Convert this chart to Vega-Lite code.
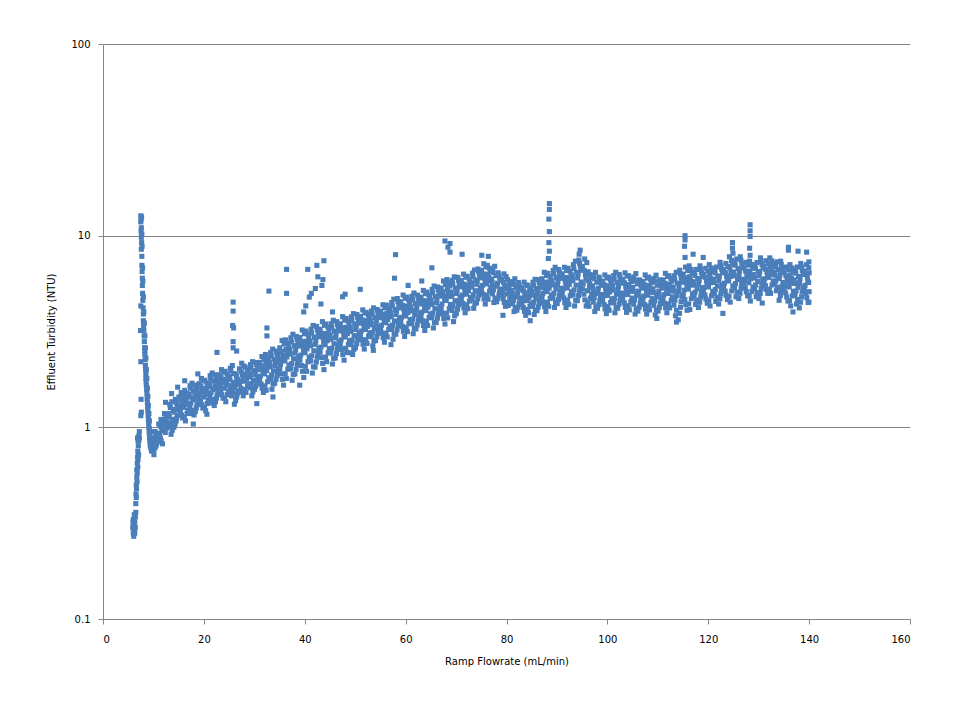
{
  "$schema": "https://vega.github.io/schema/vega-lite/v6.json",
  "width": 807,
  "height": 575,
  "autosize": "none",
  "padding": {"left": 103, "top": 44, "right": 50, "bottom": 101},
  "background": "white",
  "data": {"values": [
    {"x":5.9,"y":0.30},{"x":5.95,"y":0.32},{"x":6.0,"y":0.28},{"x":6.0,"y":0.33},{"x":6.1,"y":0.27},{"x":6.1,"y":0.31},{"x":6.15,"y":0.29},{"x":6.2,"y":0.29},{"x":6.2,"y":0.35},{"x":6.3,"y":0.32},{"x":6.3,"y":0.28},{"x":6.4,"y":0.30},{"x":6.4,"y":0.34},{"x":6.5,"y":0.36},
    {"x":6.5,"y":0.40},{"x":6.55,"y":0.45},{"x":6.6,"y":0.43},{"x":6.6,"y":0.50},{"x":6.65,"y":0.48},{"x":6.7,"y":0.55},{"x":6.7,"y":0.60},{"x":6.75,"y":0.52},{"x":6.8,"y":0.58},{"x":6.8,"y":0.65},{"x":6.85,"y":0.70},{"x":6.85,"y":0.88},{"x":6.9,"y":0.62},{"x":6.9,"y":0.75},{"x":6.95,"y":0.68},{"x":6.95,"y":0.85},{"x":7.0,"y":0.80},{"x":7.0,"y":0.88},{"x":7.05,"y":0.72},{"x":7.1,"y":0.85},{"x":7.1,"y":0.90},{"x":7.2,"y":0.88},{"x":7.2,"y":0.95},
    {"x":7.5,"y":1.15},{"x":7.55,"y":1.4},{"x":7.6,"y":1.2},{"x":7.5,"y":2.2},{"x":7.45,"y":3.2},{"x":7.5,"y":4.3},
    {"x":7.5,"y":12.7},{"x":7.55,"y":12.2},{"x":7.5,"y":11.8},{"x":7.6,"y":11.0},{"x":7.55,"y":10.5},{"x":7.6,"y":9.8},{"x":7.65,"y":9.2},{"x":7.6,"y":8.5},{"x":7.7,"y":7.8},{"x":7.7,"y":7.0},{"x":7.75,"y":6.5},{"x":7.8,"y":6.0},{"x":7.8,"y":5.5},{"x":7.85,"y":5.0},{"x":7.9,"y":4.6},{"x":7.95,"y":4.2},{"x":8.0,"y":3.9},{"x":8.0,"y":3.6},{"x":8.05,"y":3.4},{"x":8.1,"y":3.2},{"x":8.15,"y":3.0},{"x":8.2,"y":2.8},{"x":8.25,"y":2.6},{"x":8.3,"y":2.5},{"x":8.3,"y":2.4},{"x":8.35,"y":2.25},{"x":8.4,"y":2.1},{"x":8.45,"y":2.0},{"x":8.5,"y":1.9},{"x":8.5,"y":1.8},{"x":8.55,"y":1.72},{"x":8.6,"y":1.65},{"x":8.65,"y":1.58},{"x":8.7,"y":1.5},{"x":8.75,"y":1.42},{"x":8.8,"y":1.35},{"x":8.85,"y":1.28},{"x":8.9,"y":1.22},{"x":8.95,"y":1.16},{"x":9.0,"y":1.10},{"x":9.05,"y":1.05},{"x":9.1,"y":1.0},{"x":9.15,"y":0.95},{"x":9.2,"y":0.92},{"x":9.2,"y":0.98},{"x":9.25,"y":0.88},{"x":9.3,"y":0.85},{"x":9.3,"y":0.9},{"x":9.35,"y":0.82},{"x":9.4,"y":0.80},{"x":9.45,"y":0.85},{"x":9.5,"y":0.78},{"x":9.55,"y":0.82},{"x":9.6,"y":0.76},{"x":9.65,"y":0.80},{"x":9.7,"y":0.75},{"x":9.75,"y":0.86},{"x":9.8,"y":0.76},{"x":9.9,"y":0.80},{"x":9.9,"y":0.88},{"x":10.1,"y":0.72},
    {"x":7.65,"y":12.5},{"x":7.7,"y":10.2},{"x":7.75,"y":8.8},{"x":7.85,"y":6.8},{"x":7.9,"y":5.8},{"x":8.0,"y":4.8},{"x":8.1,"y":4.0},{"x":8.2,"y":3.5},{"x":8.3,"y":3.0},{"x":8.4,"y":2.6},{"x":8.5,"y":2.3},{"x":8.6,"y":2.0},{"x":8.7,"y":1.8},{"x":8.8,"y":1.6},{"x":8.9,"y":1.45},{"x":9.0,"y":1.3},{"x":9.1,"y":1.18},{"x":9.2,"y":1.08},{"x":9.4,"y":0.95},{"x":9.6,"y":0.88},{"x":9.8,"y":0.84},
    {"x":10.05,"y":0.76},{"x":10.5,"y":0.80},{"x":10.8,"y":0.84},{"x":10.2,"y":0.87},{"x":10.65,"y":0.91},{"x":10.35,"y":0.95},
    {"x":11.8,"y":0.82},{"x":11.35,"y":0.88},{"x":11.2,"y":0.93},{"x":11.65,"y":0.99},{"x":11.05,"y":1.04},{"x":11.5,"y":1.10},
    {"x":12.35,"y":0.94},{"x":12.65,"y":0.99},{"x":12.05,"y":1.04},{"x":12.5,"y":1.08},{"x":12.8,"y":1.13},{"x":12.2,"y":1.18},
    {"x":13.5,"y":0.92},{"x":13.2,"y":1.01},{"x":13.8,"y":1.10},{"x":13.05,"y":1.18},{"x":13.35,"y":1.27},{"x":13.65,"y":1.36},
    {"x":14.05,"y":1.00},{"x":14.5,"y":1.08},{"x":14.8,"y":1.16},{"x":14.2,"y":1.24},{"x":14.65,"y":1.32},{"x":14.35,"y":1.40},
    {"x":15.8,"y":1.12},{"x":15.35,"y":1.20},{"x":15.2,"y":1.28},{"x":15.65,"y":1.36},{"x":15.05,"y":1.44},{"x":15.5,"y":1.52},
    {"x":16.35,"y":1.08},{"x":16.65,"y":1.18},{"x":16.05,"y":1.27},{"x":16.5,"y":1.37},{"x":16.8,"y":1.46},{"x":16.2,"y":1.56},
    {"x":17.5,"y":1.18},{"x":17.2,"y":1.28},{"x":17.8,"y":1.39},{"x":17.05,"y":1.49},{"x":17.35,"y":1.60},{"x":17.65,"y":1.70},
    {"x":18.05,"y":1.16},{"x":18.5,"y":1.26},{"x":18.8,"y":1.36},{"x":18.2,"y":1.46},{"x":18.65,"y":1.56},{"x":18.35,"y":1.66},
    {"x":19.8,"y":1.26},{"x":19.35,"y":1.37},{"x":19.2,"y":1.48},{"x":19.65,"y":1.58},{"x":19.05,"y":1.69},{"x":19.5,"y":1.80},
    {"x":20.35,"y":1.22},{"x":20.65,"y":1.33},{"x":20.05,"y":1.44},{"x":20.5,"y":1.54},{"x":20.8,"y":1.65},{"x":20.2,"y":1.76},
    {"x":21.5,"y":1.34},{"x":21.2,"y":1.46},{"x":21.8,"y":1.57},{"x":21.05,"y":1.69},{"x":21.35,"y":1.80},{"x":21.65,"y":1.92},
    {"x":22.05,"y":1.30},{"x":22.5,"y":1.42},{"x":22.8,"y":1.53},{"x":22.2,"y":1.65},{"x":22.65,"y":1.76},{"x":22.35,"y":1.88},
    {"x":23.8,"y":1.42},{"x":23.35,"y":1.54},{"x":23.2,"y":1.65},{"x":23.65,"y":1.77},{"x":23.05,"y":1.88},{"x":23.5,"y":2.00},
    {"x":24.35,"y":1.36},{"x":24.65,"y":1.48},{"x":24.05,"y":1.60},{"x":24.5,"y":1.72},{"x":24.8,"y":1.84},{"x":24.2,"y":1.96},
    {"x":25.5,"y":1.46},{"x":25.2,"y":1.59},{"x":25.8,"y":1.72},{"x":25.05,"y":1.84},{"x":25.35,"y":1.97},{"x":25.65,"y":2.10},
    {"x":26.05,"y":1.32},{"x":26.5,"y":1.44},{"x":26.8,"y":1.55},{"x":26.2,"y":1.67},{"x":26.65,"y":1.78},{"x":26.35,"y":1.90},
    {"x":27.8,"y":1.46},{"x":27.35,"y":1.60},{"x":27.2,"y":1.74},{"x":27.65,"y":1.88},{"x":27.05,"y":2.02},{"x":27.5,"y":2.16},
    {"x":28.35,"y":1.52},{"x":28.65,"y":1.63},{"x":28.05,"y":1.74},{"x":28.5,"y":1.84},{"x":28.8,"y":1.95},{"x":28.2,"y":2.06},
    {"x":29.5,"y":1.46},{"x":29.2,"y":1.61},{"x":29.8,"y":1.76},{"x":29.05,"y":1.90},{"x":29.35,"y":2.05},{"x":29.65,"y":2.20},
    {"x":30.05,"y":1.58},{"x":30.5,"y":1.70},{"x":30.8,"y":1.82},{"x":30.2,"y":1.94},{"x":30.65,"y":2.06},{"x":30.35,"y":2.18},
    {"x":31.8,"y":1.52},{"x":31.35,"y":1.68},{"x":31.2,"y":1.85},{"x":31.65,"y":2.01},{"x":31.05,"y":2.18},{"x":31.5,"y":2.34},
    {"x":32.35,"y":1.56},{"x":32.65,"y":1.73},{"x":32.05,"y":1.90},{"x":32.5,"y":2.06},{"x":32.8,"y":2.23},{"x":32.2,"y":2.40},
    {"x":33.5,"y":1.58},{"x":33.2,"y":1.78},{"x":33.8,"y":1.97},{"x":33.05,"y":2.17},{"x":33.35,"y":2.36},{"x":33.65,"y":2.56},
    {"x":34.05,"y":1.70},{"x":34.5,"y":1.86},{"x":34.8,"y":2.02},{"x":34.2,"y":2.18},{"x":34.65,"y":2.34},{"x":34.35,"y":2.50},
    {"x":35.8,"y":1.66},{"x":35.35,"y":1.90},{"x":35.2,"y":2.13},{"x":35.65,"y":2.37},{"x":35.05,"y":2.60},{"x":35.5,"y":2.84},
    {"x":36.35,"y":1.80},{"x":36.65,"y":2.01},{"x":36.05,"y":2.22},{"x":36.5,"y":2.44},{"x":36.8,"y":2.65},{"x":36.2,"y":2.86},
    {"x":37.5,"y":1.76},{"x":37.2,"y":2.02},{"x":37.8,"y":2.28},{"x":37.05,"y":2.54},{"x":37.35,"y":2.80},{"x":37.65,"y":3.06},
    {"x":38.05,"y":1.90},{"x":38.5,"y":2.12},{"x":38.8,"y":2.33},{"x":38.2,"y":2.55},{"x":38.65,"y":2.76},{"x":38.35,"y":2.98},
    {"x":39.8,"y":1.82},{"x":39.35,"y":2.10},{"x":39.2,"y":2.38},{"x":39.65,"y":2.66},{"x":39.05,"y":2.94},{"x":39.5,"y":3.22},
    {"x":40.35,"y":1.96},{"x":40.65,"y":2.20},{"x":40.05,"y":2.45},{"x":40.5,"y":2.69},{"x":40.8,"y":2.94},{"x":40.2,"y":3.18},
    {"x":41.5,"y":1.92},{"x":41.2,"y":2.22},{"x":41.8,"y":2.51},{"x":41.05,"y":2.81},{"x":41.35,"y":3.10},{"x":41.65,"y":3.40},
    {"x":42.05,"y":2.06},{"x":42.5,"y":2.32},{"x":42.8,"y":2.58},{"x":42.2,"y":2.84},{"x":42.65,"y":3.10},{"x":42.35,"y":3.36},
    {"x":43.8,"y":2.00},{"x":43.35,"y":2.31},{"x":43.2,"y":2.62},{"x":43.65,"y":2.94},{"x":43.05,"y":3.25},{"x":43.5,"y":3.56},
    {"x":44.35,"y":2.20},{"x":44.65,"y":2.45},{"x":44.05,"y":2.70},{"x":44.5,"y":2.96},{"x":44.8,"y":3.21},{"x":44.2,"y":3.46},
    {"x":45.5,"y":2.14},{"x":45.2,"y":2.44},{"x":45.8,"y":2.73},{"x":45.05,"y":3.03},{"x":45.35,"y":3.32},{"x":45.65,"y":3.62},
    {"x":46.05,"y":2.30},{"x":46.5,"y":2.55},{"x":46.8,"y":2.80},{"x":46.2,"y":3.06},{"x":46.65,"y":3.31},{"x":46.35,"y":3.56},
    {"x":47.8,"y":2.24},{"x":47.35,"y":2.55},{"x":47.2,"y":2.86},{"x":47.65,"y":3.16},{"x":47.05,"y":3.47},{"x":47.5,"y":3.78},
    {"x":48.35,"y":2.46},{"x":48.65,"y":2.71},{"x":48.05,"y":2.96},{"x":48.5,"y":3.20},{"x":48.8,"y":3.45},{"x":48.2,"y":3.70},
    {"x":49.5,"y":2.40},{"x":49.2,"y":2.70},{"x":49.8,"y":3.01},{"x":49.05,"y":3.31},{"x":49.35,"y":3.62},{"x":49.65,"y":3.92},
    {"x":50.05,"y":2.60},{"x":50.5,"y":2.86},{"x":50.8,"y":3.11},{"x":50.2,"y":3.37},{"x":50.65,"y":3.62},{"x":50.35,"y":3.88},
    {"x":51.8,"y":2.56},{"x":51.35,"y":2.87},{"x":51.2,"y":3.18},{"x":51.65,"y":3.48},{"x":51.05,"y":3.79},{"x":51.5,"y":4.10},
    {"x":52.35,"y":2.74},{"x":52.65,"y":2.99},{"x":52.05,"y":3.24},{"x":52.5,"y":3.48},{"x":52.8,"y":3.73},{"x":52.2,"y":3.98},
    {"x":53.5,"y":2.66},{"x":53.2,"y":2.97},{"x":53.8,"y":3.28},{"x":53.05,"y":3.58},{"x":53.35,"y":3.89},{"x":53.65,"y":4.20},
    {"x":54.05,"y":2.84},{"x":54.5,"y":3.10},{"x":54.8,"y":3.35},{"x":54.2,"y":3.61},{"x":54.65,"y":3.86},{"x":54.35,"y":4.12},
    {"x":55.8,"y":2.78},{"x":55.35,"y":3.10},{"x":55.2,"y":3.41},{"x":55.65,"y":3.73},{"x":55.05,"y":4.04},{"x":55.5,"y":4.36},
    {"x":56.35,"y":2.96},{"x":56.65,"y":3.24},{"x":56.05,"y":3.51},{"x":56.5,"y":3.79},{"x":56.8,"y":4.06},{"x":56.2,"y":4.34},
    {"x":57.5,"y":2.88},{"x":57.2,"y":3.24},{"x":57.8,"y":3.59},{"x":57.05,"y":3.95},{"x":57.35,"y":4.30},{"x":57.65,"y":4.66},
    {"x":58.05,"y":3.06},{"x":58.5,"y":3.39},{"x":58.8,"y":3.72},{"x":58.2,"y":4.04},{"x":58.65,"y":4.37},{"x":58.35,"y":4.70},
    {"x":59.8,"y":2.98},{"x":59.35,"y":3.36},{"x":59.2,"y":3.75},{"x":59.65,"y":4.13},{"x":59.05,"y":4.52},{"x":59.5,"y":4.90},
    {"x":60.35,"y":3.16},{"x":60.65,"y":3.48},{"x":60.05,"y":3.81},{"x":60.5,"y":4.13},{"x":60.8,"y":4.46},{"x":60.2,"y":4.78},
    {"x":61.5,"y":3.08},{"x":61.2,"y":3.47},{"x":61.8,"y":3.86},{"x":61.05,"y":4.24},{"x":61.35,"y":4.63},{"x":61.65,"y":5.02},
    {"x":62.05,"y":3.26},{"x":62.5,"y":3.59},{"x":62.8,"y":3.92},{"x":62.2,"y":4.24},{"x":62.65,"y":4.57},{"x":62.35,"y":4.90},
    {"x":63.8,"y":3.20},{"x":63.35,"y":3.60},{"x":63.2,"y":3.99},{"x":63.65,"y":4.39},{"x":63.05,"y":4.78},{"x":63.5,"y":5.18},
    {"x":64.35,"y":3.40},{"x":64.65,"y":3.74},{"x":64.05,"y":4.07},{"x":64.5,"y":4.41},{"x":64.8,"y":4.74},{"x":64.2,"y":5.08},
    {"x":65.5,"y":3.30},{"x":65.2,"y":3.73},{"x":65.8,"y":4.16},{"x":65.05,"y":4.60},{"x":65.35,"y":5.03},{"x":65.65,"y":5.46},
    {"x":66.05,"y":3.52},{"x":66.5,"y":3.90},{"x":66.8,"y":4.27},{"x":66.2,"y":4.65},{"x":66.65,"y":5.02},{"x":66.35,"y":5.40},
    {"x":67.8,"y":3.46},{"x":67.35,"y":3.93},{"x":67.2,"y":4.40},{"x":67.65,"y":4.86},{"x":67.05,"y":5.33},{"x":67.5,"y":5.80},
    {"x":68.35,"y":3.72},{"x":68.65,"y":4.16},{"x":68.05,"y":4.59},{"x":68.5,"y":5.03},{"x":68.8,"y":5.46},{"x":68.2,"y":5.90},
    {"x":69.5,"y":3.56},{"x":69.2,"y":4.07},{"x":69.8,"y":4.58},{"x":69.05,"y":5.08},{"x":69.35,"y":5.59},{"x":69.65,"y":6.10},
    {"x":70.05,"y":3.92},{"x":70.5,"y":4.35},{"x":70.8,"y":4.78},{"x":70.2,"y":5.20},{"x":70.65,"y":5.63},{"x":70.35,"y":6.06},
    {"x":71.8,"y":3.96},{"x":71.35,"y":4.43},{"x":71.2,"y":4.90},{"x":71.65,"y":5.36},{"x":71.05,"y":5.83},{"x":71.5,"y":6.30},
    {"x":72.35,"y":4.16},{"x":72.65,"y":4.56},{"x":72.05,"y":4.95},{"x":72.5,"y":5.35},{"x":72.8,"y":5.74},{"x":72.2,"y":6.14},
    {"x":73.5,"y":4.18},{"x":73.2,"y":4.67},{"x":73.8,"y":5.16},{"x":73.05,"y":5.64},{"x":73.35,"y":6.13},{"x":73.65,"y":6.62},
    {"x":74.05,"y":4.46},{"x":74.5,"y":4.91},{"x":74.8,"y":5.36},{"x":74.2,"y":5.80},{"x":74.65,"y":6.25},{"x":74.35,"y":6.70},
    {"x":75.8,"y":4.40},{"x":75.35,"y":4.95},{"x":75.2,"y":5.50},{"x":75.65,"y":6.04},{"x":75.05,"y":6.59},{"x":75.5,"y":7.14},
    {"x":76.35,"y":4.66},{"x":76.65,"y":5.13},{"x":76.05,"y":5.60},{"x":76.5,"y":6.06},{"x":76.8,"y":6.53},{"x":76.2,"y":7.00},
    {"x":77.5,"y":4.48},{"x":77.2,"y":4.97},{"x":77.8,"y":5.46},{"x":77.05,"y":5.94},{"x":77.35,"y":6.43},{"x":77.65,"y":6.92},
    {"x":78.05,"y":4.52},{"x":78.5,"y":4.90},{"x":78.8,"y":5.27},{"x":78.2,"y":5.65},{"x":78.65,"y":6.02},{"x":78.35,"y":6.40},
    {"x":79.8,"y":4.28},{"x":79.35,"y":4.69},{"x":79.2,"y":5.10},{"x":79.65,"y":5.50},{"x":79.05,"y":5.91},{"x":79.5,"y":6.32},
    {"x":80.35,"y":4.32},{"x":80.65,"y":4.64},{"x":80.05,"y":4.95},{"x":80.5,"y":5.27},{"x":80.8,"y":5.58},{"x":80.2,"y":5.90},
    {"x":81.5,"y":4.02},{"x":81.2,"y":4.41},{"x":81.8,"y":4.80},{"x":81.05,"y":5.18},{"x":81.35,"y":5.57},{"x":81.65,"y":5.96},
    {"x":82.05,"y":4.08},{"x":82.5,"y":4.40},{"x":82.8,"y":4.73},{"x":82.2,"y":5.05},{"x":82.65,"y":5.38},{"x":82.35,"y":5.70},
    {"x":83.8,"y":3.84},{"x":83.35,"y":4.22},{"x":83.2,"y":4.59},{"x":83.65,"y":4.97},{"x":83.05,"y":5.34},{"x":83.5,"y":5.72},
    {"x":84.35,"y":3.96},{"x":84.65,"y":4.27},{"x":84.05,"y":4.58},{"x":84.5,"y":4.88},{"x":84.8,"y":5.19},{"x":84.2,"y":5.50},
    {"x":85.5,"y":3.88},{"x":85.2,"y":4.29},{"x":85.8,"y":4.70},{"x":85.05,"y":5.10},{"x":85.35,"y":5.51},{"x":85.65,"y":5.92},
    {"x":86.05,"y":4.06},{"x":86.5,"y":4.43},{"x":86.8,"y":4.80},{"x":86.2,"y":5.16},{"x":86.65,"y":5.53},{"x":86.35,"y":5.90},
    {"x":87.8,"y":4.02},{"x":87.35,"y":4.50},{"x":87.2,"y":4.99},{"x":87.65,"y":5.47},{"x":87.05,"y":5.96},{"x":87.5,"y":6.44},
    {"x":88.35,"y":4.28},{"x":88.65,"y":4.70},{"x":88.05,"y":5.11},{"x":88.5,"y":5.53},{"x":88.8,"y":5.94},{"x":88.2,"y":6.36},
    {"x":89.5,"y":4.22},{"x":89.2,"y":4.74},{"x":89.8,"y":5.27},{"x":89.05,"y":5.79},{"x":89.35,"y":6.32},{"x":89.65,"y":6.84},
    {"x":90.05,"y":4.42},{"x":90.5,"y":4.87},{"x":90.8,"y":5.32},{"x":90.2,"y":5.76},{"x":90.65,"y":6.21},{"x":90.35,"y":6.66},
    {"x":91.8,"y":4.22},{"x":91.35,"y":4.74},{"x":91.2,"y":5.27},{"x":91.65,"y":5.79},{"x":91.05,"y":6.32},{"x":91.5,"y":6.84},
    {"x":92.35,"y":4.38},{"x":92.65,"y":4.86},{"x":92.05,"y":5.33},{"x":92.5,"y":5.81},{"x":92.8,"y":6.28},{"x":92.2,"y":6.76},
    {"x":93.5,"y":4.30},{"x":93.2,"y":4.91},{"x":93.8,"y":5.52},{"x":93.05,"y":6.14},{"x":93.35,"y":6.75},{"x":93.65,"y":7.36},
    {"x":94.05,"y":4.58},{"x":94.5,"y":5.16},{"x":94.8,"y":5.73},{"x":94.2,"y":6.31},{"x":94.65,"y":6.88},{"x":94.35,"y":7.46},
    {"x":95.8,"y":4.30},{"x":95.35,"y":4.95},{"x":95.2,"y":5.60},{"x":95.65,"y":6.26},{"x":95.05,"y":6.91},{"x":95.5,"y":7.56},
    {"x":96.35,"y":4.28},{"x":96.65,"y":4.72},{"x":96.05,"y":5.16},{"x":96.5,"y":5.60},{"x":96.8,"y":6.04},{"x":96.2,"y":6.48},
    {"x":97.5,"y":4.02},{"x":97.2,"y":4.50},{"x":97.8,"y":4.99},{"x":97.05,"y":5.47},{"x":97.35,"y":5.96},{"x":97.65,"y":6.44},
    {"x":98.05,"y":4.18},{"x":98.5,"y":4.56},{"x":98.8,"y":4.94},{"x":98.2,"y":5.32},{"x":98.65,"y":5.70},{"x":98.35,"y":6.08},
    {"x":99.8,"y":3.92},{"x":99.35,"y":4.38},{"x":99.2,"y":4.85},{"x":99.65,"y":5.31},{"x":99.05,"y":5.78},{"x":99.5,"y":6.24},
    {"x":100.35,"y":4.08},{"x":100.65,"y":4.48},{"x":100.05,"y":4.88},{"x":100.5,"y":5.28},{"x":100.8,"y":5.68},{"x":100.2,"y":6.08},
    {"x":101.5,"y":3.96},{"x":101.2,"y":4.46},{"x":101.8,"y":4.95},{"x":101.05,"y":5.45},{"x":101.35,"y":5.94},{"x":101.65,"y":6.44},
    {"x":102.05,"y":4.18},{"x":102.5,"y":4.60},{"x":102.8,"y":5.02},{"x":102.2,"y":5.44},{"x":102.65,"y":5.86},{"x":102.35,"y":6.28},
    {"x":103.8,"y":3.98},{"x":103.35,"y":4.46},{"x":103.2,"y":4.95},{"x":103.65,"y":5.43},{"x":103.05,"y":5.92},{"x":103.5,"y":6.40},
    {"x":104.35,"y":4.10},{"x":104.65,"y":4.52},{"x":104.05,"y":4.93},{"x":104.5,"y":5.35},{"x":104.8,"y":5.76},{"x":104.2,"y":6.18},
    {"x":105.5,"y":3.90},{"x":105.2,"y":4.39},{"x":105.8,"y":4.88},{"x":105.05,"y":5.36},{"x":105.35,"y":5.85},{"x":105.65,"y":6.34},
    {"x":106.05,"y":4.04},{"x":106.5,"y":4.41},{"x":106.8,"y":4.78},{"x":106.2,"y":5.14},{"x":106.65,"y":5.51},{"x":106.35,"y":5.88},
    {"x":107.8,"y":3.90},{"x":107.35,"y":4.37},{"x":107.2,"y":4.84},{"x":107.65,"y":5.30},{"x":107.05,"y":5.77},{"x":107.5,"y":6.24},
    {"x":108.35,"y":4.10},{"x":108.65,"y":4.50},{"x":108.05,"y":4.89},{"x":108.5,"y":5.29},{"x":108.8,"y":5.68},{"x":108.2,"y":6.08},
    {"x":109.5,"y":3.86},{"x":109.2,"y":4.33},{"x":109.8,"y":4.80},{"x":109.05,"y":5.28},{"x":109.35,"y":5.75},{"x":109.65,"y":6.22},
    {"x":110.05,"y":4.04},{"x":110.5,"y":4.41},{"x":110.8,"y":4.78},{"x":110.2,"y":5.14},{"x":110.65,"y":5.51},{"x":110.35,"y":5.88},
    {"x":111.8,"y":3.96},{"x":111.35,"y":4.44},{"x":111.2,"y":4.92},{"x":111.65,"y":5.40},{"x":111.05,"y":5.88},{"x":111.5,"y":6.36},
    {"x":112.35,"y":4.20},{"x":112.65,"y":4.60},{"x":112.05,"y":4.99},{"x":112.5,"y":5.39},{"x":112.8,"y":5.78},{"x":112.2,"y":6.18},
    {"x":113.5,"y":3.82},{"x":113.2,"y":4.34},{"x":113.8,"y":4.87},{"x":113.05,"y":5.39},{"x":113.35,"y":5.92},{"x":113.65,"y":6.44},
    {"x":114.05,"y":3.64},{"x":114.5,"y":4.23},{"x":114.8,"y":4.82},{"x":114.2,"y":5.42},{"x":114.65,"y":6.01},{"x":114.35,"y":6.60},
    {"x":115.8,"y":4.08},{"x":115.35,"y":4.64},{"x":115.2,"y":5.19},{"x":115.65,"y":5.75},{"x":115.05,"y":6.30},{"x":115.5,"y":6.86},
    {"x":116.35,"y":4.12},{"x":116.65,"y":4.69},{"x":116.05,"y":5.26},{"x":116.5,"y":5.82},{"x":116.8,"y":6.39},{"x":116.2,"y":6.96},
    {"x":117.5,"y":4.38},{"x":117.2,"y":4.84},{"x":117.8,"y":5.29},{"x":117.05,"y":5.75},{"x":117.35,"y":6.20},{"x":117.65,"y":6.66},
    {"x":118.05,"y":4.22},{"x":118.5,"y":4.77},{"x":118.8,"y":5.32},{"x":118.2,"y":5.86},{"x":118.65,"y":6.41},{"x":118.35,"y":6.96},
    {"x":119.8,"y":4.44},{"x":119.35,"y":4.90},{"x":119.2,"y":5.37},{"x":119.65,"y":5.83},{"x":119.05,"y":6.30},{"x":119.5,"y":6.76},
    {"x":120.35,"y":4.30},{"x":120.65,"y":4.85},{"x":120.05,"y":5.40},{"x":120.5,"y":5.96},{"x":120.8,"y":6.51},{"x":120.2,"y":7.06},
    {"x":121.5,"y":4.54},{"x":121.2,"y":5.00},{"x":121.8,"y":5.47},{"x":121.05,"y":5.93},{"x":121.35,"y":6.40},{"x":121.65,"y":6.86},
    {"x":122.05,"y":4.40},{"x":122.5,"y":4.97},{"x":122.8,"y":5.54},{"x":122.2,"y":6.12},{"x":122.65,"y":6.69},{"x":122.35,"y":7.26},
    {"x":123.8,"y":4.64},{"x":123.35,"y":5.14},{"x":123.2,"y":5.65},{"x":123.65,"y":6.15},{"x":123.05,"y":6.66},{"x":123.5,"y":7.16},
    {"x":124.35,"y":4.50},{"x":124.65,"y":5.15},{"x":124.05,"y":5.80},{"x":124.5,"y":6.46},{"x":124.8,"y":7.11},{"x":124.2,"y":7.76},
    {"x":125.5,"y":4.80},{"x":125.2,"y":5.35},{"x":125.8,"y":5.90},{"x":125.05,"y":6.46},{"x":125.35,"y":7.01},{"x":125.65,"y":7.56},
    {"x":126.05,"y":4.70},{"x":126.5,"y":5.31},{"x":126.8,"y":5.92},{"x":126.2,"y":6.54},{"x":126.65,"y":7.15},{"x":126.35,"y":7.76},
    {"x":127.8,"y":4.86},{"x":127.35,"y":5.34},{"x":127.2,"y":5.82},{"x":127.65,"y":6.30},{"x":127.05,"y":6.78},{"x":127.5,"y":7.26},
    {"x":128.35,"y":4.56},{"x":128.65,"y":5.12},{"x":128.05,"y":5.68},{"x":128.5,"y":6.24},{"x":128.8,"y":6.80},{"x":128.2,"y":7.36},
    {"x":129.5,"y":4.80},{"x":129.2,"y":5.29},{"x":129.8,"y":5.78},{"x":129.05,"y":6.26},{"x":129.35,"y":6.75},{"x":129.65,"y":7.24},
    {"x":130.05,"y":4.70},{"x":130.5,"y":5.29},{"x":130.8,"y":5.88},{"x":130.2,"y":6.48},{"x":130.65,"y":7.07},{"x":130.35,"y":7.66},
    {"x":131.8,"y":5.00},{"x":131.35,"y":5.48},{"x":131.2,"y":5.96},{"x":131.65,"y":6.44},{"x":131.05,"y":6.92},{"x":131.5,"y":7.40},
    {"x":132.35,"y":5.00},{"x":132.65,"y":5.53},{"x":132.05,"y":6.06},{"x":132.5,"y":6.60},{"x":132.8,"y":7.13},{"x":132.2,"y":7.66},
    {"x":133.5,"y":5.16},{"x":133.2,"y":5.59},{"x":133.8,"y":6.02},{"x":133.05,"y":6.44},{"x":133.35,"y":6.87},{"x":133.65,"y":7.30},
    {"x":134.05,"y":4.60},{"x":134.5,"y":5.15},{"x":134.8,"y":5.70},{"x":134.2,"y":6.26},{"x":134.65,"y":6.81},{"x":134.35,"y":7.36},
    {"x":135.8,"y":4.56},{"x":135.35,"y":5.02},{"x":135.2,"y":5.48},{"x":135.65,"y":5.94},{"x":135.05,"y":6.40},{"x":135.5,"y":6.86},
    {"x":136.35,"y":4.30},{"x":136.65,"y":4.85},{"x":136.05,"y":5.40},{"x":136.5,"y":5.96},{"x":136.8,"y":6.51},{"x":136.2,"y":7.06},
    {"x":137.5,"y":4.40},{"x":137.2,"y":4.89},{"x":137.8,"y":5.38},{"x":137.05,"y":5.88},{"x":137.35,"y":6.37},{"x":137.65,"y":6.86},
    {"x":138.05,"y":4.20},{"x":138.5,"y":4.79},{"x":138.8,"y":5.38},{"x":138.2,"y":5.98},{"x":138.65,"y":6.57},{"x":138.35,"y":7.16},
    {"x":139.8,"y":4.48},{"x":139.35,"y":5.00},{"x":139.2,"y":5.51},{"x":139.65,"y":6.03},{"x":139.05,"y":6.54},{"x":139.5,"y":7.06},
    {"x":139.95,"y":4.50},{"x":140.0,"y":5.10},{"x":139.9,"y":5.70},{"x":140.0,"y":6.40},{"x":139.95,"y":7.30},
    {"x":10.3,"y":0.78},{"x":10.62,"y":0.82},{"x":10.1,"y":0.855},{"x":10.85,"y":0.89},{"x":10.48,"y":0.93},
    {"x":11.55,"y":0.85},{"x":11.05,"y":0.905},{"x":11.75,"y":0.96},{"x":11.4,"y":1.015},{"x":11.92,"y":1.07},
    {"x":12.12,"y":0.965},{"x":12.88,"y":1.015},{"x":12.45,"y":1.06},{"x":12.28,"y":1.105},{"x":12.6,"y":1.155},
    {"x":13.72,"y":0.965},{"x":13.4,"y":1.055},{"x":13.15,"y":1.14},{"x":13.9,"y":1.225},{"x":13.25,"y":1.315},
    {"x":14.3,"y":1.04},{"x":14.62,"y":1.12},{"x":14.1,"y":1.20},{"x":14.85,"y":1.28},{"x":14.48,"y":1.36},
    {"x":15.55,"y":1.16},{"x":15.05,"y":1.24},{"x":15.75,"y":1.32},{"x":15.4,"y":1.40},{"x":15.92,"y":1.48},
    {"x":16.12,"y":1.13},{"x":16.88,"y":1.225},{"x":16.45,"y":1.32},{"x":16.28,"y":1.415},{"x":16.6,"y":1.51},
    {"x":17.72,"y":1.23},{"x":17.4,"y":1.335},{"x":17.15,"y":1.44},{"x":17.9,"y":1.545},{"x":17.25,"y":1.65},
    {"x":18.3,"y":1.21},{"x":18.62,"y":1.31},{"x":18.1,"y":1.41},{"x":18.85,"y":1.51},{"x":18.48,"y":1.61},
    {"x":19.55,"y":1.315},{"x":19.05,"y":1.425},{"x":19.75,"y":1.53},{"x":19.4,"y":1.635},{"x":19.92,"y":1.745},
    {"x":20.12,"y":1.275},{"x":20.88,"y":1.385},{"x":20.45,"y":1.49},{"x":20.28,"y":1.595},{"x":20.6,"y":1.705},
    {"x":21.72,"y":1.40},{"x":21.4,"y":1.515},{"x":21.15,"y":1.63},{"x":21.9,"y":1.745},{"x":21.25,"y":1.86},
    {"x":22.3,"y":1.36},{"x":22.62,"y":1.475},{"x":22.1,"y":1.59},{"x":22.85,"y":1.705},{"x":22.48,"y":1.82},
    {"x":23.55,"y":1.48},{"x":23.05,"y":1.595},{"x":23.75,"y":1.71},{"x":23.4,"y":1.825},{"x":23.92,"y":1.94},
    {"x":24.12,"y":1.42},{"x":24.88,"y":1.54},{"x":24.45,"y":1.66},{"x":24.28,"y":1.78},{"x":24.6,"y":1.90},
    {"x":25.72,"y":1.525},{"x":25.4,"y":1.655},{"x":25.15,"y":1.78},{"x":25.9,"y":1.905},{"x":25.25,"y":2.035},
    {"x":26.3,"y":1.38},{"x":26.62,"y":1.495},{"x":26.1,"y":1.61},{"x":26.85,"y":1.725},{"x":26.48,"y":1.84},
    {"x":27.55,"y":1.53},{"x":27.05,"y":1.67},{"x":27.75,"y":1.81},{"x":27.4,"y":1.95},{"x":27.92,"y":2.09},
    {"x":28.12,"y":1.575},{"x":28.88,"y":1.685},{"x":28.45,"y":1.79},{"x":28.28,"y":1.895},{"x":28.6,"y":2.005},
    {"x":29.72,"y":1.535},{"x":29.4,"y":1.685},{"x":29.15,"y":1.83},{"x":29.9,"y":1.975},{"x":29.25,"y":2.125},
    {"x":30.3,"y":1.64},{"x":30.62,"y":1.76},{"x":30.1,"y":1.88},{"x":30.85,"y":2.00},{"x":30.48,"y":2.12},
    {"x":31.55,"y":1.60},{"x":31.05,"y":1.765},{"x":31.75,"y":1.93},{"x":31.4,"y":2.095},{"x":31.92,"y":2.26},
    {"x":32.12,"y":1.645},{"x":32.88,"y":1.815},{"x":32.45,"y":1.98},{"x":32.28,"y":2.145},{"x":32.6,"y":2.315},
    {"x":33.72,"y":1.68},{"x":33.4,"y":1.875},{"x":33.15,"y":2.07},{"x":33.9,"y":2.265},{"x":33.25,"y":2.46},
    {"x":34.3,"y":1.78},{"x":34.62,"y":1.94},{"x":34.1,"y":2.10},{"x":34.85,"y":2.26},{"x":34.48,"y":2.42},
    {"x":35.55,"y":1.78},{"x":35.05,"y":2.015},{"x":35.75,"y":2.25},{"x":35.4,"y":2.485},{"x":35.92,"y":2.72},
    {"x":36.12,"y":1.905},{"x":36.88,"y":2.115},{"x":36.45,"y":2.33},{"x":36.28,"y":2.545},{"x":36.6,"y":2.755},
    {"x":37.72,"y":1.89},{"x":37.4,"y":2.15},{"x":37.15,"y":2.41},{"x":37.9,"y":2.67},{"x":37.25,"y":2.93},
    {"x":38.3,"y":2.01},{"x":38.62,"y":2.225},{"x":38.1,"y":2.44},{"x":38.85,"y":2.655},{"x":38.48,"y":2.87},
    {"x":39.55,"y":1.96},{"x":39.05,"y":2.24},{"x":39.75,"y":2.52},{"x":39.4,"y":2.80},{"x":39.92,"y":3.08},
    {"x":40.12,"y":2.08},{"x":40.88,"y":2.325},{"x":40.45,"y":2.57},{"x":40.28,"y":2.815},{"x":40.6,"y":3.06},
    {"x":41.72,"y":2.07},{"x":41.4,"y":2.365},{"x":41.15,"y":2.66},{"x":41.9,"y":2.955},{"x":41.25,"y":3.25},
    {"x":42.3,"y":2.19},{"x":42.62,"y":2.45},{"x":42.1,"y":2.71},{"x":42.85,"y":2.97},{"x":42.48,"y":3.23},
    {"x":43.55,"y":2.155},{"x":43.05,"y":2.465},{"x":43.75,"y":2.78},{"x":43.4,"y":3.095},{"x":43.92,"y":3.405},
    {"x":44.12,"y":2.325},{"x":44.88,"y":2.575},{"x":44.45,"y":2.83},{"x":44.28,"y":3.085},{"x":44.6,"y":3.335},
    {"x":45.72,"y":2.29},{"x":45.4,"y":2.585},{"x":45.15,"y":2.88},{"x":45.9,"y":3.175},{"x":45.25,"y":3.47},
    {"x":46.3,"y":2.425},{"x":46.62,"y":2.675},{"x":46.1,"y":2.93},{"x":46.85,"y":3.185},{"x":46.48,"y":3.435},
    {"x":47.55,"y":2.395},{"x":47.05,"y":2.705},{"x":47.75,"y":3.01},{"x":47.4,"y":3.315},{"x":47.92,"y":3.625},
    {"x":48.12,"y":2.585},{"x":48.88,"y":2.835},{"x":48.45,"y":3.08},{"x":48.28,"y":3.325},{"x":48.6,"y":3.575},
    {"x":49.72,"y":2.55},{"x":49.4,"y":2.855},{"x":49.15,"y":3.16},{"x":49.9,"y":3.465},{"x":49.25,"y":3.77},
    {"x":50.3,"y":2.73},{"x":50.62,"y":2.985},{"x":50.1,"y":3.24},{"x":50.85,"y":3.495},{"x":50.48,"y":3.75},
    {"x":51.55,"y":2.715},{"x":51.05,"y":3.025},{"x":51.75,"y":3.33},{"x":51.4,"y":3.635},{"x":51.92,"y":3.945},
    {"x":52.12,"y":2.865},{"x":52.88,"y":3.115},{"x":52.45,"y":3.36},{"x":52.28,"y":3.605},{"x":52.6,"y":3.855},
    {"x":53.72,"y":2.815},{"x":53.4,"y":3.125},{"x":53.15,"y":3.43},{"x":53.9,"y":3.735},{"x":53.25,"y":4.045},
    {"x":54.3,"y":2.97},{"x":54.62,"y":3.225},{"x":54.1,"y":3.48},{"x":54.85,"y":3.735},{"x":54.48,"y":3.99},
    {"x":55.55,"y":2.94},{"x":55.05,"y":3.255},{"x":55.75,"y":3.57},{"x":55.4,"y":3.885},{"x":55.92,"y":4.20},
    {"x":56.12,"y":3.10},{"x":56.88,"y":3.375},{"x":56.45,"y":3.65},{"x":56.28,"y":3.925},{"x":56.6,"y":4.20},
    {"x":57.72,"y":3.06},{"x":57.4,"y":3.415},{"x":57.15,"y":3.77},{"x":57.9,"y":4.125},{"x":57.25,"y":4.48},
    {"x":58.3,"y":3.225},{"x":58.62,"y":3.555},{"x":58.1,"y":3.88},{"x":58.85,"y":4.205},{"x":58.48,"y":4.535},
    {"x":59.55,"y":3.17},{"x":59.05,"y":3.555},{"x":59.75,"y":3.94},{"x":59.4,"y":4.325},{"x":59.92,"y":4.71},
    {"x":60.12,"y":3.32},{"x":60.88,"y":3.645},{"x":60.45,"y":3.97},{"x":60.28,"y":4.295},{"x":60.6,"y":4.62},
    {"x":61.72,"y":3.275},{"x":61.4,"y":3.665},{"x":61.15,"y":4.05},{"x":61.9,"y":4.435},{"x":61.25,"y":4.825},
    {"x":62.3,"y":3.425},{"x":62.62,"y":3.755},{"x":62.1,"y":4.08},{"x":62.85,"y":4.405},{"x":62.48,"y":4.735},
    {"x":63.55,"y":3.40},{"x":63.05,"y":3.795},{"x":63.75,"y":4.19},{"x":63.4,"y":4.585},{"x":63.92,"y":4.98},
    {"x":64.12,"y":3.57},{"x":64.88,"y":3.905},{"x":64.45,"y":4.24},{"x":64.28,"y":4.575},{"x":64.6,"y":4.91},
    {"x":65.72,"y":3.515},{"x":65.4,"y":3.945},{"x":65.15,"y":4.38},{"x":65.9,"y":4.815},{"x":65.25,"y":5.245},
    {"x":66.3,"y":3.71},{"x":66.62,"y":4.085},{"x":66.1,"y":4.46},{"x":66.85,"y":4.835},{"x":66.48,"y":5.21},
    {"x":67.55,"y":3.695},{"x":67.05,"y":4.165},{"x":67.75,"y":4.63},{"x":67.4,"y":5.095},{"x":67.92,"y":5.565},
    {"x":68.12,"y":3.94},{"x":68.88,"y":4.375},{"x":68.45,"y":4.81},{"x":68.28,"y":5.245},{"x":68.6,"y":5.68},
    {"x":69.72,"y":3.815},{"x":69.4,"y":4.325},{"x":69.15,"y":4.83},{"x":69.9,"y":5.335},{"x":69.25,"y":5.845},
    {"x":70.3,"y":4.135},{"x":70.62,"y":4.565},{"x":70.1,"y":4.99},{"x":70.85,"y":5.415},{"x":70.48,"y":5.845},
    {"x":71.55,"y":4.195},{"x":71.05,"y":4.665},{"x":71.75,"y":5.13},{"x":71.4,"y":5.595},{"x":71.92,"y":6.065},
    {"x":72.12,"y":4.36},{"x":72.88,"y":4.755},{"x":72.45,"y":5.15},{"x":72.28,"y":5.545},{"x":72.6,"y":5.94},
    {"x":73.72,"y":4.425},{"x":73.4,"y":4.915},{"x":73.15,"y":5.40},{"x":73.9,"y":5.885},{"x":73.25,"y":6.375},
    {"x":74.3,"y":4.685},{"x":74.62,"y":5.135},{"x":74.1,"y":5.58},{"x":74.85,"y":6.025},{"x":74.48,"y":6.475},
    {"x":75.55,"y":4.675},{"x":75.05,"y":5.225},{"x":75.75,"y":5.77},{"x":75.4,"y":6.315},{"x":75.92,"y":6.865},
    {"x":76.12,"y":4.895},{"x":76.88,"y":5.365},{"x":76.45,"y":5.83},{"x":76.28,"y":6.295},{"x":76.6,"y":6.765},
    {"x":77.72,"y":4.725},{"x":77.4,"y":5.215},{"x":77.15,"y":5.70},{"x":77.9,"y":6.185},{"x":77.25,"y":6.675},
    {"x":78.3,"y":4.71},{"x":78.62,"y":5.085},{"x":78.1,"y":5.46},{"x":78.85,"y":5.835},{"x":78.48,"y":6.21},
    {"x":79.55,"y":4.485},{"x":79.05,"y":4.895},{"x":79.75,"y":5.30},{"x":79.4,"y":5.705},{"x":79.92,"y":6.115},
    {"x":80.12,"y":4.48},{"x":80.88,"y":4.795},{"x":80.45,"y":5.11},{"x":80.28,"y":5.425},{"x":80.6,"y":5.74},
    {"x":81.72,"y":4.215},{"x":81.4,"y":4.605},{"x":81.15,"y":4.99},{"x":81.9,"y":5.375},{"x":81.25,"y":5.765},
    {"x":82.3,"y":4.24},{"x":82.62,"y":4.565},{"x":82.1,"y":4.89},{"x":82.85,"y":5.215},{"x":82.48,"y":5.54},
    {"x":83.55,"y":4.03},{"x":83.05,"y":4.405},{"x":83.75,"y":4.78},{"x":83.4,"y":5.155},{"x":83.92,"y":5.53},
    {"x":84.12,"y":4.115},{"x":84.88,"y":4.425},{"x":84.45,"y":4.73},{"x":84.28,"y":5.035},{"x":84.6,"y":5.345},
    {"x":85.72,"y":4.085},{"x":85.4,"y":4.495},{"x":85.15,"y":4.90},{"x":85.9,"y":5.305},{"x":85.25,"y":5.715},
    {"x":86.3,"y":4.245},{"x":86.62,"y":4.615},{"x":86.1,"y":4.98},{"x":86.85,"y":5.345},{"x":86.48,"y":5.715},
    {"x":87.55,"y":4.26},{"x":87.05,"y":4.745},{"x":87.75,"y":5.23},{"x":87.4,"y":5.715},{"x":87.92,"y":6.20},
    {"x":88.12,"y":4.49},{"x":88.88,"y":4.905},{"x":88.45,"y":5.32},{"x":88.28,"y":5.735},{"x":88.6,"y":6.15},
    {"x":89.72,"y":4.48},{"x":89.4,"y":5.005},{"x":89.15,"y":5.53},{"x":89.9,"y":6.055},{"x":89.25,"y":6.58},
    {"x":90.3,"y":4.645},{"x":90.62,"y":5.095},{"x":90.1,"y":5.54},{"x":90.85,"y":5.985},{"x":90.48,"y":6.435},
    {"x":91.55,"y":4.48},{"x":91.05,"y":5.005},{"x":91.75,"y":5.53},{"x":91.4,"y":6.055},{"x":91.92,"y":6.58},
    {"x":92.12,"y":4.62},{"x":92.88,"y":5.095},{"x":92.45,"y":5.57},{"x":92.28,"y":6.045},{"x":92.6,"y":6.52},
    {"x":93.72,"y":4.605},{"x":93.4,"y":5.215},{"x":93.15,"y":5.83},{"x":93.9,"y":6.445},{"x":93.25,"y":7.055},
    {"x":94.3,"y":4.87},{"x":94.62,"y":5.445},{"x":94.1,"y":6.02},{"x":94.85,"y":6.595},{"x":94.48,"y":7.17},
    {"x":95.55,"y":4.625},{"x":95.05,"y":5.275},{"x":95.75,"y":5.93},{"x":95.4,"y":6.585},{"x":95.92,"y":7.235},
    {"x":96.12,"y":4.50},{"x":96.88,"y":4.94},{"x":96.45,"y":5.38},{"x":96.28,"y":5.82},{"x":96.6,"y":6.26},
    {"x":97.72,"y":4.26},{"x":97.4,"y":4.745},{"x":97.15,"y":5.23},{"x":97.9,"y":5.715},{"x":97.25,"y":6.20},
    {"x":98.3,"y":4.37},{"x":98.62,"y":4.75},{"x":98.1,"y":5.13},{"x":98.85,"y":5.51},{"x":98.48,"y":5.89},
    {"x":99.55,"y":4.15},{"x":99.05,"y":4.615},{"x":99.75,"y":5.08},{"x":99.4,"y":5.545},{"x":99.92,"y":6.01},
    {"x":100.12,"y":4.28},{"x":100.88,"y":4.68},{"x":100.45,"y":5.08},{"x":100.28,"y":5.48},{"x":100.6,"y":5.88},
    {"x":101.72,"y":4.21},{"x":101.4,"y":4.705},{"x":101.15,"y":5.20},{"x":101.9,"y":5.695},{"x":101.25,"y":6.19},
    {"x":102.3,"y":4.39},{"x":102.62,"y":4.81},{"x":102.1,"y":5.23},{"x":102.85,"y":5.65},{"x":102.48,"y":6.07},
    {"x":103.55,"y":4.22},{"x":103.05,"y":4.705},{"x":103.75,"y":5.19},{"x":103.4,"y":5.675},{"x":103.92,"y":6.16},
    {"x":104.12,"y":4.31},{"x":104.88,"y":4.725},{"x":104.45,"y":5.14},{"x":104.28,"y":5.555},{"x":104.6,"y":5.97},
    {"x":105.72,"y":4.145},{"x":105.4,"y":4.635},{"x":105.15,"y":5.12},{"x":105.9,"y":5.605},{"x":105.25,"y":6.095},
    {"x":106.3,"y":4.225},{"x":106.62,"y":4.595},{"x":106.1,"y":4.96},{"x":106.85,"y":5.325},{"x":106.48,"y":5.695},
    {"x":107.55,"y":4.135},{"x":107.05,"y":4.605},{"x":107.75,"y":5.07},{"x":107.4,"y":5.535},{"x":107.92,"y":6.005},
    {"x":108.12,"y":4.30},{"x":108.88,"y":4.695},{"x":108.45,"y":5.09},{"x":108.28,"y":5.485},{"x":108.6,"y":5.88},
    {"x":109.72,"y":4.095},{"x":109.4,"y":4.565},{"x":109.15,"y":5.04},{"x":109.9,"y":5.515},{"x":109.25,"y":5.985},
    {"x":110.3,"y":4.225},{"x":110.62,"y":4.595},{"x":110.1,"y":4.96},{"x":110.85,"y":5.325},{"x":110.48,"y":5.695},
    {"x":111.55,"y":4.20},{"x":111.05,"y":4.68},{"x":111.75,"y":5.16},{"x":111.4,"y":5.64},{"x":111.92,"y":6.12},
    {"x":112.12,"y":4.40},{"x":112.88,"y":4.795},{"x":112.45,"y":5.19},{"x":112.28,"y":5.585},{"x":112.6,"y":5.98},
    {"x":113.72,"y":4.08},{"x":113.4,"y":4.605},{"x":113.15,"y":5.13},{"x":113.9,"y":5.655},{"x":113.25,"y":6.18},
    {"x":114.3,"y":3.935},{"x":114.62,"y":4.525},{"x":114.1,"y":5.12},{"x":114.85,"y":5.715},{"x":114.48,"y":6.305},
    {"x":115.55,"y":4.36},{"x":115.05,"y":4.915},{"x":115.75,"y":5.47},{"x":115.4,"y":6.025},{"x":115.92,"y":6.58},
    {"x":116.12,"y":4.405},{"x":116.88,"y":4.975},{"x":116.45,"y":5.54},{"x":116.28,"y":6.105},{"x":116.6,"y":6.675},
    {"x":117.72,"y":4.61},{"x":117.4,"y":5.065},{"x":117.15,"y":5.52},{"x":117.9,"y":5.975},{"x":117.25,"y":6.43},
    {"x":118.3,"y":4.495},{"x":118.62,"y":5.045},{"x":118.1,"y":5.59},{"x":118.85,"y":6.135},{"x":118.48,"y":6.685},
    {"x":119.55,"y":4.67},{"x":119.05,"y":5.135},{"x":119.75,"y":5.60},{"x":119.4,"y":6.065},{"x":119.92,"y":6.53},
    {"x":120.12,"y":4.575},{"x":120.88,"y":5.125},{"x":120.45,"y":5.68},{"x":120.28,"y":6.235},{"x":120.6,"y":6.785},
    {"x":121.72,"y":4.77},{"x":121.4,"y":5.235},{"x":121.15,"y":5.70},{"x":121.9,"y":6.165},{"x":121.25,"y":6.63},
    {"x":122.3,"y":4.685},{"x":122.62,"y":5.255},{"x":122.1,"y":5.83},{"x":122.85,"y":6.405},{"x":122.48,"y":6.975},
    {"x":123.55,"y":4.89},{"x":123.05,"y":5.395},{"x":123.75,"y":5.90},{"x":123.4,"y":6.405},{"x":123.92,"y":6.91},
    {"x":124.12,"y":4.825},{"x":124.88,"y":5.475},{"x":124.45,"y":6.13},{"x":124.28,"y":6.785},{"x":124.6,"y":7.435},
    {"x":125.72,"y":5.075},{"x":125.4,"y":5.625},{"x":125.15,"y":6.18},{"x":125.9,"y":6.735},{"x":125.25,"y":7.285},
    {"x":126.3,"y":5.005},{"x":126.62,"y":5.615},{"x":126.1,"y":6.23},{"x":126.85,"y":6.845},{"x":126.48,"y":7.455},
    {"x":127.55,"y":5.10},{"x":127.05,"y":5.58},{"x":127.75,"y":6.06},{"x":127.4,"y":6.54},{"x":127.92,"y":7.02},
    {"x":128.12,"y":4.84},{"x":128.88,"y":5.40},{"x":128.45,"y":5.96},{"x":128.28,"y":6.52},{"x":128.6,"y":7.08},
    {"x":129.72,"y":5.045},{"x":129.4,"y":5.535},{"x":129.15,"y":6.02},{"x":129.9,"y":6.505},{"x":129.25,"y":6.995},
    {"x":130.3,"y":4.995},{"x":130.62,"y":5.585},{"x":130.1,"y":6.18},{"x":130.85,"y":6.775},{"x":130.48,"y":7.365},
    {"x":131.55,"y":5.24},{"x":131.05,"y":5.72},{"x":131.75,"y":6.20},{"x":131.4,"y":6.68},{"x":131.92,"y":7.16},
    {"x":132.12,"y":5.265},{"x":132.88,"y":5.795},{"x":132.45,"y":6.33},{"x":132.28,"y":6.865},{"x":132.6,"y":7.395},
    {"x":133.72,"y":5.375},{"x":133.4,"y":5.805},{"x":133.15,"y":6.23},{"x":133.9,"y":6.655},{"x":133.25,"y":7.085},
    {"x":134.3,"y":4.875},{"x":134.62,"y":5.425},{"x":134.1,"y":5.98},{"x":134.85,"y":6.535},{"x":134.48,"y":7.085},
    {"x":135.55,"y":4.79},{"x":135.05,"y":5.25},{"x":135.75,"y":5.71},{"x":135.4,"y":6.17},{"x":135.92,"y":6.63},
    {"x":136.12,"y":4.575},{"x":136.88,"y":5.125},{"x":136.45,"y":5.68},{"x":136.28,"y":6.235},{"x":136.6,"y":6.785},
    {"x":137.72,"y":4.645},{"x":137.4,"y":5.135},{"x":137.15,"y":5.63},{"x":137.9,"y":6.125},{"x":137.25,"y":6.615},
    {"x":138.3,"y":4.495},{"x":138.62,"y":5.085},{"x":138.1,"y":5.68},{"x":138.85,"y":6.275},{"x":138.48,"y":6.865},
    {"x":139.55,"y":4.74},{"x":139.05,"y":5.255},{"x":139.75,"y":5.77},{"x":139.4,"y":6.285},{"x":139.92,"y":6.80},
    {"x":12.4,"y":1.35},{"x":13.6,"y":1.5},{"x":14.8,"y":1.62},{"x":16.2,"y":1.75},{"x":17.9,"y":1.04},{"x":18.8,"y":1.9},{"x":20.6,"y":1.17},{"x":22.6,"y":2.46},{"x":25.8,"y":4.5},{"x":25.8,"y":4.04},{"x":25.7,"y":3.4},{"x":25.9,"y":3.3},{"x":25.8,"y":2.8},{"x":25.8,"y":2.6},{"x":26.5,"y":2.5},{"x":30.5,"y":1.33},{"x":32.5,"y":3.3},{"x":32.5,"y":3.0},{"x":32.9,"y":5.14},{"x":33.7,"y":1.44},{"x":36.4,"y":6.67},{"x":36.4,"y":5.0},{"x":39.0,"y":1.66},{"x":39.8,"y":4.0},{"x":40.2,"y":4.3},{"x":40.6,"y":6.67},{"x":40.9,"y":4.78},{"x":41.3,"y":5.0},{"x":42.1,"y":5.3},{"x":42.4,"y":7.0},{"x":42.6,"y":6.1},{"x":43.2,"y":4.4},{"x":43.4,"y":5.5},{"x":43.6,"y":5.9},{"x":43.8,"y":7.4},{"x":48.0,"y":4.95},{"x":48.9,"y":2.45},{"x":51.0,"y":5.25},{"x":53.6,"y":2.52},{"x":57.1,"y":2.7},{"x":57.8,"y":6.0},{"x":58.0,"y":7.96},{"x":65.2,"y":6.8},{"x":67.8,"y":9.38},{"x":68.4,"y":8.7},{"x":68.8,"y":9.1},{"x":68.8,"y":8.2},{"x":71.2,"y":8.0},{"x":75.1,"y":7.9},{"x":76.4,"y":7.8},{"x":88.5,"y":14.7},{"x":88.5,"y":13.7},{"x":88.4,"y":12.2},{"x":88.5,"y":10.5},{"x":88.4,"y":9.2},{"x":88.5,"y":8.3},{"x":88.3,"y":7.6},{"x":94.6,"y":8.4},{"x":94.4,"y":8.0},{"x":109.8,"y":3.7},{"x":113.7,"y":3.54},{"x":115.4,"y":10.0},{"x":115.4,"y":9.5},{"x":115.3,"y":8.8},{"x":115.4,"y":7.7},{"x":117.0,"y":8.0},{"x":119.0,"y":7.7},{"x":122.9,"y":3.93},{"x":124.8,"y":9.2},{"x":124.8,"y":8.6},{"x":124.9,"y":8.1},{"x":128.3,"y":11.4},{"x":128.3,"y":10.6},{"x":128.3,"y":9.9},{"x":128.2,"y":8.6},{"x":128.3,"y":7.9},{"x":130.7,"y":4.45},{"x":135.9,"y":8.7},{"x":135.9,"y":8.4},{"x":136.8,"y":4.0},{"x":137.8,"y":8.3},{"x":139.5,"y":8.2},{"x":84.7,"y":3.6},{"x":79.3,"y":3.84},{"x":47.5,"y":4.8},{"x":45.5,"y":4.0},{"x":60.5,"y":5.5},{"x":63.2,"y":5.8}
  ]},
  "mark": {"type": "point", "shape": "square", "filled": true, "size": 26, "color": "#4a7ebb", "opacity": 1},
  "encoding": {
    "x": {
      "field": "x",
      "type": "quantitative",
      "title": "Ramp Flowrate (mL/min)",
      "scale": {"domain": [0, 160], "nice": false, "zero": false},
      "axis": {"values": [0, 20, 40, 60, 80, 100, 120, 140, 160], "grid": false, "labelPadding": 10, "titlePadding": 12}
    },
    "y": {
      "field": "y",
      "type": "quantitative",
      "title": "Effluent Turbidity (NTU)",
      "scale": {"type": "log", "domain": [0.1, 100], "nice": false},
      "axis": {"values": [0.1, 1, 10, 100], "format": "~g", "grid": true, "labelPadding": 8, "titlePadding": 14}
    }
  },
  "config": {
    "view": {"stroke": null},
    "font": "DejaVu Sans",
    "axis": {
      "domainColor": "#868686",
      "tickColor": "#868686",
      "gridColor": "#868686",
      "tickSize": 5,
      "labelFont": "DejaVu Sans",
      "labelFontSize": 10,
      "labelColor": "#000000",
      "titleFont": "DejaVu Sans",
      "titleFontSize": 10,
      "titleFontWeight": "normal",
      "titleColor": "#000000"
    }
  }
}
